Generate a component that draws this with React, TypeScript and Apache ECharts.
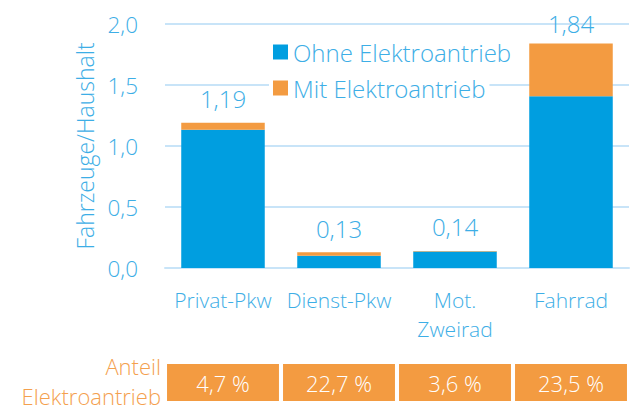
import React, { useEffect, useRef } from "react";
import * as echarts from "echarts";

const categories = ["Privat-Pkw", "Dienst-Pkw", "Mot.\nZweirad", "Fahrrad"];
const ohneElektro = [1.134, 0.1, 0.135, 1.408];
const mitElektro = [0.056, 0.03, 0.005, 0.432];
const totals = [1.19, 0.13, 0.14, 1.84];
const shares = ["4,7 %", "22,7 %", "3,6 %", "23,5 %"];
const yTicks = { min: 0, max: 2, interval: 0.5 };

const BLUE = "#009EE0";
const ORANGE = "#F39B41";
const TEXT_BLUE = "#3DAEE6";
const TEXT_ORANGE = "#F4A04E";
const GRID = "#C8E4F8";
const FONT = "'Open Sans', sans-serif";

const fmt = (v: number, d: number) => v.toFixed(d).replace(".", ",");

export default function App() {
  const ref = useRef<HTMLDivElement>(null);
  useEffect(() => {
    if (!ref.current) return;
    const chart = echarts.init(ref.current, undefined, { renderer: "svg" });
    const textBase = { fontFamily: FONT, fontWeight: 300 as any };
    const legendBase = {
      left: 269,
      orient: "vertical",
      padding: [1, 4],
      backgroundColor: "#ffffff",
      itemWidth: 15,
      itemHeight: 15,
      icon: "rect",
      selectedMode: false,
      textStyle: { ...textBase, fontSize: 24, color: TEXT_BLUE },
    };
    chart.setOption({
      animation: false,
      backgroundColor: "#ffffff",
      grid: [
        { left: 165, right: 3, top: 24, bottom: 144 },
        { left: 165, right: 3, top: 364, height: 37 },
      ],
      legend: [
        { ...legendBase, data: ["Ohne Elektroantrieb"], top: 39 },
        { ...legendBase, data: ["Mit Elektroantrieb"], top: 75 },
      ],
      xAxis: [
        {
          type: "category",
          gridIndex: 0,
          data: categories,
          axisLine: { lineStyle: { color: GRID, width: 2 } },
          axisTick: { show: false },
          axisLabel: {
            ...textBase,
            fontSize: 21,
            color: TEXT_BLUE,
            lineHeight: 29,
            margin: 17,
            interval: 0,
          },
        },
        {
          type: "category",
          gridIndex: 1,
          data: categories,
          show: false,
        },
      ],
      yAxis: [
        {
          type: "value",
          gridIndex: 0,
          min: yTicks.min,
          max: yTicks.max,
          interval: yTicks.interval,
          name: "Fahrzeuge/Haushalt",
          nameLocation: "middle",
          nameGap: 68,
          nameTextStyle: { ...textBase, fontSize: 23, color: TEXT_BLUE },
          axisLine: { show: false },
          axisTick: { show: false },
          splitLine: { lineStyle: { color: GRID, width: 2 } },
          axisLabel: {
            ...textBase,
            fontSize: 22.5,
            color: TEXT_BLUE,
            margin: 27,
            formatter: (v: number) => fmt(v, 1),
          },
        },
        {
          type: "value",
          gridIndex: 1,
          min: 0,
          max: 1,
          show: false,
        },
      ],
      series: [
        {
          name: "Ohne Elektroantrieb",
          type: "bar",
          stack: "total",
          xAxisIndex: 0,
          yAxisIndex: 0,
          data: ohneElektro,
          barCategoryGap: "28%",
          itemStyle: { color: BLUE },
        },
        {
          name: "Mit Elektroantrieb",
          type: "bar",
          stack: "total",
          xAxisIndex: 0,
          yAxisIndex: 0,
          data: mitElektro.map((v, i) =>
            i === mitElektro.length - 1 ? { value: v, label: { distance: 8 } } : v
          ),
          barCategoryGap: "28%",
          itemStyle: { color: ORANGE },
          label: {
            show: true,
            position: "top",
            distance: 12,
            ...textBase,
            fontSize: 24,
            color: TEXT_BLUE,
            formatter: (p: any) => fmt(totals[p.dataIndex], 2),
          },
        },
        {
          name: "Anteil",
          type: "bar",
          xAxisIndex: 1,
          yAxisIndex: 1,
          data: shares.map(() => 1),
          barCategoryGap: "3.5%",
          itemStyle: { color: ORANGE },
          label: {
            show: true,
            position: "inside",
            ...textBase,
            fontSize: 22,
            color: "#ffffff",
            formatter: (p: any) => shares[p.dataIndex],
          },
        },
      ],
      graphic: [
        {
          type: "text",
          x: 161,
          y: 366,
          style: {
            text: "Anteil",
            fill: TEXT_ORANGE,
            font: `300 22px ${FONT}`,
            textAlign: "right",
            textVerticalAlign: "middle",
          },
        },
        {
          type: "text",
          x: 161,
          y: 396,
          style: {
            text: "Elektroantrieb",
            fill: TEXT_ORANGE,
            font: `300 22px ${FONT}`,
            textAlign: "right",
            textVerticalAlign: "middle",
          },
        },
      ],
    });
    return () => chart.dispose();
  }, []);
  return (
    <div
      ref={ref}
      style={{ position: "fixed", left: 0, top: 0, width: 632, height: 412 }}
    />
  );
}
